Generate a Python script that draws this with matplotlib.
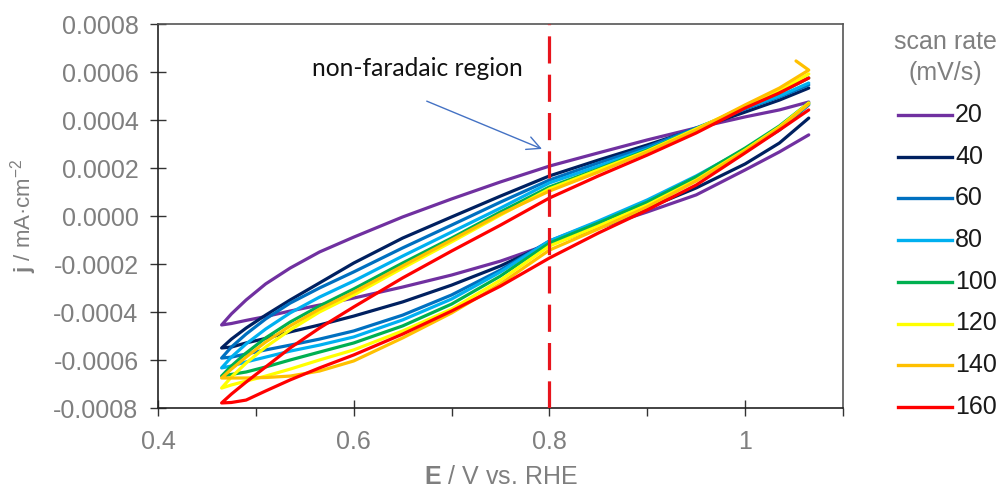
import matplotlib
matplotlib.use("Agg")
import matplotlib.pyplot as plt
from matplotlib.lines import Line2D
from matplotlib.ticker import FixedLocator

plt.rcParams['font.family'] = ['Liberation Sans', 'DejaVu Sans']
plt.rcParams['mathtext.fontset'] = 'custom'
plt.rcParams['mathtext.rm'] = 'Liberation Sans'
plt.rcParams['mathtext.bf'] = 'Liberation Sans:bold'

e_grid = [0.465, 0.475, 0.49, 0.51, 0.535, 0.565, 0.60, 0.65, 0.70, 0.75,
          0.80, 0.85, 0.90, 0.95, 1.00, 1.035, 1.065]

scan_rates = [20, 40, 60, 80, 100, 120, 140, 160]
colors = ['#7030A0', '#002060', '#0070C0', '#00B0F0', '#00B050', '#FFFF00', '#FFC000', '#FF0000']

# current density in 1e-4 mA/cm2 (upper = anodic branch, lower = cathodic branch)
upper = {
    20:  [-4.54, -4.08, -3.50, -2.83, -2.17, -1.50, -0.88, -0.04, 0.71, 1.42, 2.08, 2.63, 3.17, 3.67, 4.13, 4.42, 4.75],
    40:  [-5.50, -5.13, -4.67, -4.13, -3.50, -2.79, -1.96, -0.92, -0.04, 0.83, 1.67, 2.33, 2.96, 3.63, 4.33, 4.83, 5.33],
    60:  [-5.92, -5.46, -4.92, -4.29, -3.63, -3.00, -2.33, -1.33, -0.38, 0.58, 1.50, 2.21, 2.88, 3.67, 4.46, 4.96, 5.46],
    80:  [-6.33, -5.88, -5.33, -4.71, -4.04, -3.38, -2.71, -1.67, -0.67, 0.33, 1.38, 2.08, 2.79, 3.63, 4.50, 5.00, 5.54],
    100: [-6.67, -6.25, -5.71, -5.08, -4.42, -3.75, -3.04, -1.96, -0.92, 0.17, 1.21, 1.96, 2.75, 3.63, 4.54, 5.13, 5.75],
    120: [-7.17, -6.71, -6.13, -5.46, -4.75, -4.00, -3.29, -2.17, -1.08, 0.04, 1.13, 1.92, 2.71, 3.63, 4.58, 5.21, 5.92],
    140: [-6.75, -6.38, -5.88, -5.25, -4.58, -3.88, -3.17, -2.08, -1.00, 0.08, 1.04, 1.83, 2.67, 3.58, 4.63, 5.33, 6.08],
    160: [-7.79, -7.42, -6.92, -6.29, -5.50, -4.67, -3.79, -2.58, -1.46, -0.38, 0.75, 1.67, 2.54, 3.46, 4.50, 5.13, 5.75],
}
lower = {
    20:  [-4.54, -4.48, -4.35, -4.19, -3.96, -3.71, -3.42, -2.96, -2.46, -1.88, -1.17, -0.50, 0.17, 0.88, 1.92, 2.67, 3.38],
    40:  [-5.50, -5.46, -5.29, -5.10, -4.83, -4.54, -4.17, -3.58, -2.88, -2.08, -1.13, -0.42, 0.33, 1.17, 2.17, 3.04, 4.08],
    60:  [-5.92, -5.88, -5.75, -5.58, -5.38, -5.13, -4.79, -4.13, -3.29, -2.25, -1.04, -0.25, 0.58, 1.54, 2.71, 3.58, 4.63],
    80:  [-6.33, -6.25, -6.08, -5.88, -5.63, -5.38, -5.04, -4.33, -3.46, -2.33, -1.04, -0.21, 0.67, 1.67, 2.79, 3.67, 4.67],
    100: [-6.67, -6.60, -6.50, -6.29, -6.00, -5.67, -5.29, -4.58, -3.67, -2.50, -1.13, -0.29, 0.58, 1.63, 2.83, 3.75, 4.71],
    120: [-7.17, -7.04, -6.88, -6.67, -6.38, -6.00, -5.58, -4.79, -3.88, -2.67, -1.25, -0.42, 0.46, 1.50, 2.75, 3.71, 4.71],
    140: [-6.75, -6.75, -6.75, -6.73, -6.67, -6.46, -6.04, -5.08, -4.04, -2.83, -1.42, -0.54, 0.38, 1.46, 2.71, 3.67, 4.67],
    160: [-7.79, -7.77, -7.67, -7.29, -6.83, -6.33, -5.79, -4.92, -3.96, -2.92, -1.75, -0.71, 0.25, 1.29, 2.63, 3.58, 4.42],
}
# the 140 mV/s trace overshoots at the anodic vertex
hook_e, hook_j = 1.052, 6.46

fig = plt.figure(figsize=(10.04, 4.91), dpi=100)
ax = fig.add_axes([158/1004, 1-408/491, (843-158)/1004, (408-24)/491])

for rate, col in zip(scan_rates, colors):
    xs = e_grid[::-1] + e_grid
    ys = lower[rate][::-1] + upper[rate]
    if rate == 140:
        xs = xs + [hook_e]
        ys = ys + [hook_j]
    ax.plot(xs, [v * 1e-4 for v in ys], color=col, lw=2.3,
            solid_joinstyle='round', solid_capstyle='round')

ax.axvline(0.8, color='#E8141C', lw=2.3, dashes=(8.5, 3.5), zorder=5)

ax.set_xlim(0.4, 1.1)
ax.set_ylim(-0.0008, 0.0008)
ax.set_xticks([0.4, 0.6, 0.8, 1.0])
ax.set_xticklabels(['0.4', '0.6', '0.8', '1'])
ax.xaxis.set_minor_locator(FixedLocator([0.5, 0.7, 0.9, 1.1]))
yt = [-0.0008 + 0.0002 * i for i in range(9)]
ax.set_yticks(yt)
ax.set_yticklabels(['%.4f' % v for v in yt])

ax.tick_params(which='major', direction='inout', length=12, width=1.0, color='#333333',
               labelsize=18, labelcolor='#7F7F7F', pad=8)
ax.tick_params(axis='x', which='minor', direction='out', length=6, width=1.0, color='#333333')
ax.tick_params(axis='x', which='major', pad=10)
ax.tick_params(axis='y', which='minor', length=0)
for name, s in ax.spines.items():
    s.set_color('#222222' if name in ('left', 'bottom') else '#555555')
    s.set_linewidth(1.2)

ax.set_xlabel(r'$\mathbf{E}$ / V vs. RHE', fontsize=18, color='#7F7F7F', labelpad=8)
ax.set_ylabel(r'$\mathbf{j}$ / mA·cm$^{-2}$', fontsize=16, color='#7F7F7F', labelpad=10)

fig.text(312/1004, 1-68/491, 'non-faradaic region', fontsize=17.7,
         family=['Lato', 'DejaVu Sans'], va='center', ha='left', color='#111111')
ax.annotate('', xy=(0.795, 0.000275), xytext=(0.672, 0.000483),
            arrowprops=dict(arrowstyle='->', color='#4472C4', lw=1.0, mutation_scale=24))

# legend, drawn by hand to keep the spacing of the original
fig.text(945/1004, 1-42/491, 'scan rate', fontsize=18, color='#7F7F7F', ha='center', va='center')
fig.text(945/1004, 1-73/491, '(mV/s)', fontsize=18, color='#7F7F7F', ha='center', va='center')
for i, (rate, col) in enumerate(zip(scan_rates, colors)):
    yy = 1 - (115 + 41.7 * i) / 491
    fig.add_artist(Line2D([898/1004, 952/1004], [yy, yy], color=col, lw=2.4,
                          transform=fig.transFigure))
    fig.text(955/1004, yy, str(rate), fontsize=18, color='#1A1A1A', ha='left', va='center')

fig.savefig('out.png', dpi=100)
